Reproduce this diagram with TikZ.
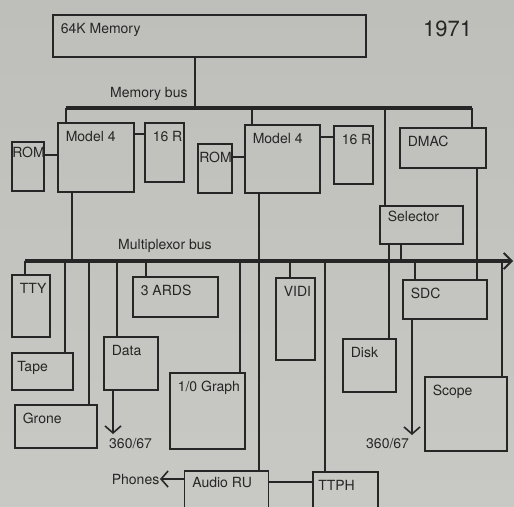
\documentclass[tikz,border=0pt]{standalone}
\usepackage{fontspec}
\setmainfont{TeX Gyre Heros}
\usetikzlibrary{arrows.meta}
\definecolor{ink}{RGB}{38,38,38}
\definecolor{papertop}{RGB}{190,190,186}
\definecolor{papermid}{RGB}{212,212,208}
\definecolor{paperbot}{RGB}{200,200,196}
\tikzset{vtip/.tip={Straight Barb[length=7pt, width=16pt, line width=1.6pt]}}
\begin{document}
\begin{tikzpicture}[x=1pt, y=-1pt, font=\fontsize{14}{16}\selectfont,
	box/.style={draw=ink, line width=1.8pt, shape=rectangle},
	tag/.style={anchor=north west, inner sep=8.5pt, text=ink},
	wire/.style={draw=ink, line width=1.7pt},
	bus/.style={draw=ink, line width=3.2pt}]
	\useasboundingbox (0, 0) rectangle (514, 506);
	\shade[top color=papertop, middle color=papermid, bottom color=paperbot] (0, 0) rectangle (514, 506);
	\clip (0, 0) rectangle (514, 506);
	\node[box, minimum width=313, minimum height=42] (mem) at (209.5, 36){};
	\node[tag] (memtxt) at (mem.north west){64K Memory};
	\node[anchor=north west, inner sep=0pt, text=ink, font=\fontsize{22}{24}\selectfont] (year) at (423, 21){1971};
	\node[box, minimum width=76, minimum height=69] (mod1) at (96, 157.5){};
	\node[tag] (mod1txt) at (mod1.north west){Model 4};
	\node[box, minimum width=39, minimum height=59] (r1) at (164.5, 152.5){};
	\node[tag] (r1txt) at (r1.north west){16 R};
	\node[box, minimum width=32, minimum height=49] (rom1) at (28, 166.5){};
	\node[tag, inner xsep=1pt, inner ysep=6pt] (rom1txt) at (rom1.north west){ROM};
	\node[box, minimum width=34, minimum height=49] (rom2) at (215, 168.5){};
	\node[tag, inner xsep=2pt] (rom2txt) at (rom2.north west){ROM};
	\node[box, minimum width=75, minimum height=68] (mod2) at (282.5, 159){};
	\node[tag] (mod2txt) at (mod2.north west){Model 4};
	\node[box, minimum width=39, minimum height=58] (r2) at (353.5, 155){};
	\node[tag] (r2txt) at (r2.north west){16 R};
	\node[box, minimum width=86, minimum height=40] (dmac) at (443, 148){};
	\node[tag] (dmactxt) at (dmac.north west){DMAC};
	\node[box, minimum width=83, minimum height=38] (sel) at (421.5, 225){};
	\node[tag, inner ysep=6pt] (seltxt) at (sel.north west){Selector};
	\node[box, minimum width=38, minimum height=62] (tty) at (31, 306){};
	\node[tag] (ttytxt) at (tty.north west){TTY};
	\node[box, minimum width=61, minimum height=37] (tape) at (42.5, 371.5){};
	\node[tag, inner xsep=6pt] (tapetxt) at (tape.north west){Tape};
	\node[box, minimum width=82, minimum height=43] (grone) at (56, 426.5){};
	\node[tag] (gronetxt) at (grone.north west){Grone};
	\node[box, minimum width=54, minimum height=53] (data) at (131, 363.5){};
	\node[tag] (datatxt) at (data.north west){Data};
	\node[box, minimum width=85, minimum height=40] (ards) at (175.5, 297){};
	\node[tag] (ardstxt) at (ards.north west){3 ARDS};
	\node[box, minimum width=75, minimum height=76] (iog) at (207.5, 411){};
	\node[tag] (iogtxt) at (iog.north west){1/0 Graph};
	\node[box, minimum width=39, minimum height=82] (vidi) at (295.5, 319){};
	\node[tag] (viditxt) at (vidi.north west){VIDI};
	\node[box, minimum width=53, minimum height=53] (disk) at (369.5, 365.5){};
	\node[tag] (disktxt) at (disk.north west){Disk};
	\node[box, minimum width=84, minimum height=39] (sdc) at (445, 299.5){};
	\node[tag] (sdctxt) at (sdc.north west){SDC};
	\node[box, minimum width=82, minimum height=74] (scope) at (466, 414){};
	\node[tag] (scopetxt) at (scope.north west){Scope};
	\node[box, minimum width=84, minimum height=50] (audio) at (226.5, 496){};
	\node[tag, inner ysep=7pt] (audiotxt) at (audio.north west){Audio RU};
	\node[box, minimum width=65, minimum height=50] (ttph) at (345.5, 497){};
	\node[tag, inner xsep=6pt] (ttphtxt) at (ttph.north west){TTPH};
	\node[anchor=east, inner sep=0.5pt, text=ink] (phones) at (160, 479){Phones};
	\node[anchor=north west, inner sep=0pt, text=ink] (out1txt) at (109, 438){360/67};
	\node[anchor=north west, inner sep=0pt, text=ink] (out2txt) at (366, 438){360/67};
	\node[anchor=south west, inner sep=0pt, text=ink] (membustxt) at (110, 101){Memory bus};
	\node[anchor=south west, inner sep=0pt, text=ink] (muxbustxt) at (118, 253){Multiplexor bus};
	\coordinate (mbL) at (66, 108);
	\coordinate (mbR) at (472, 108);
	\coordinate (mbmem) at (195, 108);
	\coordinate (mbmod2) at (252, 108);
	\coordinate (mbsel) at (385, 108);
	\draw[bus] (mbL) -- (mbR);
	\draw[wire] (mbL) -- (mbL |- mod1.north);
	\draw[wire] (mbR) -- (mbR |- dmac.north);
	\draw[wire] (mbmem) -- (mbmem |- mem.south);
	\draw[wire] (mbmod2) -- (mbmod2 |- mod2.north);
	\draw[wire] (mbsel) -- (mbsel |- sel.north);
	\draw[wire] (rom1.east |- 0, 155) -- (mod1.west |- 0, 155);
	\draw[wire] (mod1.east |- 0, 134) -- (r1.west |- 0, 134);
	\draw[wire] (rom2.east |- 0, 157) -- (mod2.west |- 0, 157);
	\draw[wire] (mod2.east |- 0, 137) -- (r2.west |- 0, 137);
	\coordinate (mxL) at (25, 261);
	\coordinate (mxR) at (513, 261);
	\draw[bus, -{Straight Barb[length=8pt, width=16pt, line width=1.8pt]}] (mxL) -- (mxR);
	\coordinate (mxtape) at (65, 261);
	\coordinate (mxmod1) at (72, 261);
	\coordinate (mxgrone) at (89, 261);
	\coordinate (mxdata) at (117, 261);
	\coordinate (mxards) at (146, 261);
	\coordinate (mxiog) at (240, 261);
	\coordinate (mxaudio) at (259, 261);
	\coordinate (mxvidi) at (290, 261);
	\coordinate (mxttph) at (325, 261);
	\coordinate (mxdisk) at (389, 261);
	\coordinate (mxsel) at (401, 261);
	\coordinate (mxsdc) at (415, 261);
	\coordinate (mxdmac) at (477, 261);
	\coordinate (mxscope) at (502, 261);
	\draw[wire] (mxL) -- (mxL |- tty.north);
	\draw[wire] (mxtape) -- (mxtape |- tape.north);
	\draw[wire] (mxmod1 |- mod1.south) -- (mxmod1);
	\draw[wire] (mxgrone) -- (mxgrone |- grone.north);
	\draw[wire] (mxdata) -- (mxdata |- data.north);
	\draw[wire] (mxards) -- (mxards |- ards.north);
	\draw[wire] (mxiog) -- (mxiog |- iog.north);
	\draw[wire] (mxaudio |- mod2.south) -- (mxaudio |- audio.north);
	\draw[wire] (mxvidi) -- (mxvidi |- vidi.north);
	\draw[wire] (mxttph) -- (mxttph |- ttph.north);
	\draw[wire] (mxdisk |- sel.south) -- (mxdisk |- disk.north);
	\draw[wire] (mxsel |- sel.south) -- (mxsel);
	\draw[wire] (mxsdc) -- (mxsdc |- sdc.north);
	\draw[wire] (mxdmac |- dmac.south) -- (mxdmac |- sdc.north);
	\draw[wire] (mxscope) -- (mxscope |- scope.north);
	\draw[wire] (audio.east |- 0, 482) -- (ttph.west |- 0, 482);
	\draw[wire, -vtip] (audio.west |- phones.east) -- (phones.east);
	\coordinate (out1) at (113, 434);
	\coordinate (out2) at (412, 435);
	\draw[wire, -vtip] (out1 |- data.south) -- (out1);
	\draw[wire, -vtip] (out2 |- sdc.south) -- (out2);
\end{tikzpicture}
\end{document}
